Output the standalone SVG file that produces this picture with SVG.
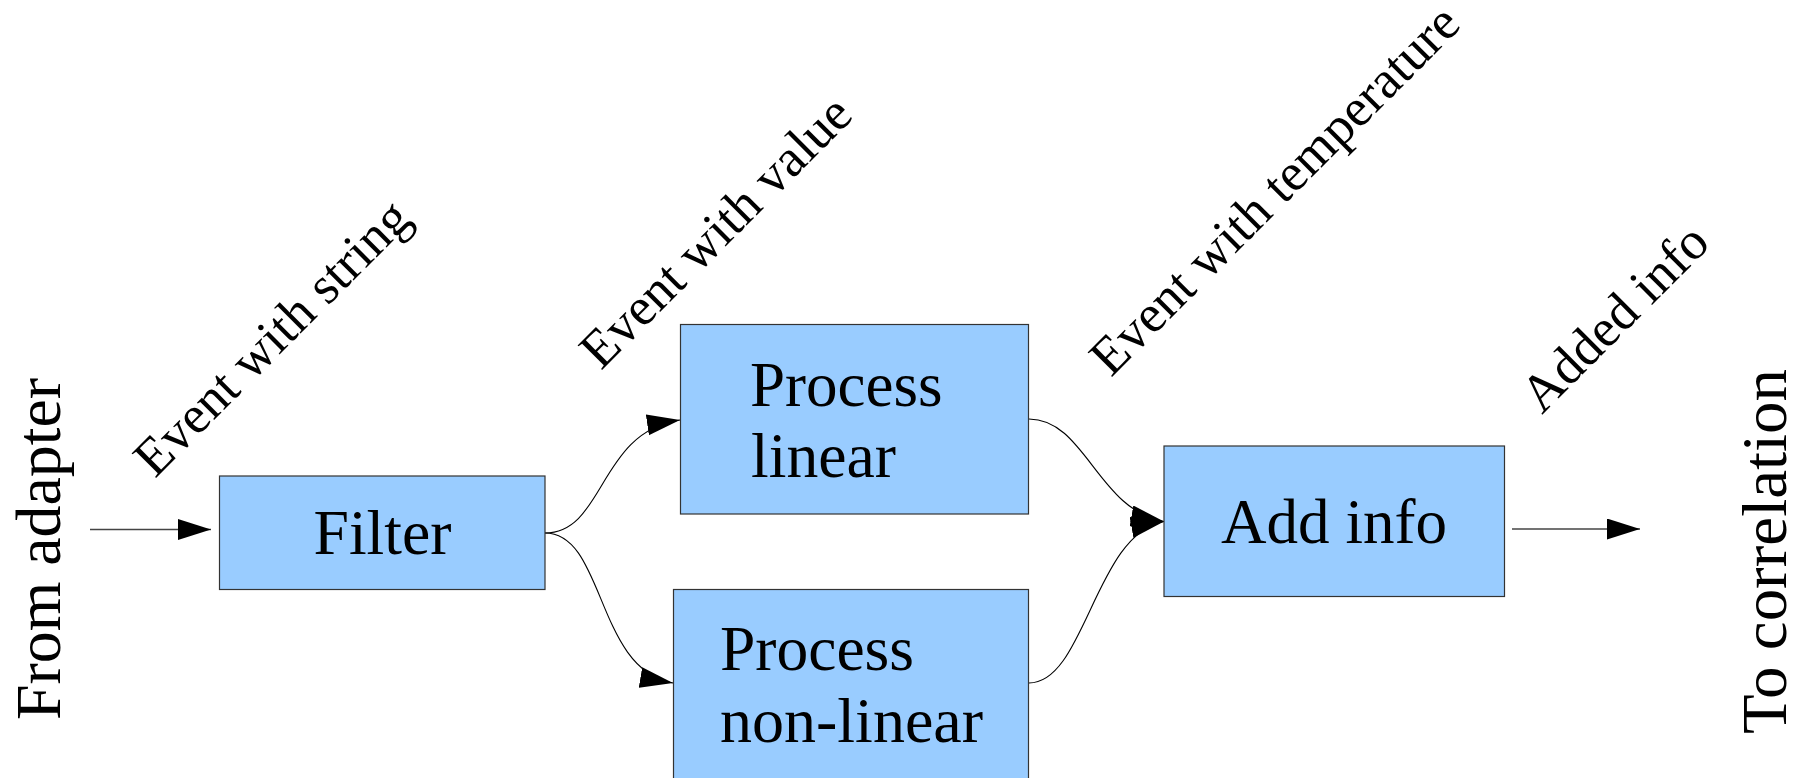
<svg xmlns="http://www.w3.org/2000/svg" width="1803" height="778" viewBox="0 0 1803 778">
  <style>
    .box { fill: #99ccff; stroke: #333333; stroke-width: 1.2; }
    .txt { font-family: "Liberation Serif", "Times New Roman", serif; fill: #000000; }
    .big { font-size: 64px; }
    .lbl { font-size: 53px; }
    .conn { fill: none; stroke: #000000; stroke-width: 1.1; }
    .io { fill: none; stroke: #444444; stroke-width: 1.6; }
  </style>
  <defs>
    <marker id="arrow" markerUnits="userSpaceOnUse" markerWidth="34" markerHeight="22" refX="33" refY="10.5" orient="auto">
      <path d="M0,0 L33,10.5 L0,21 Z" fill="#000000"/>
    </marker>
  </defs>
  <rect width="1803" height="778" fill="#ffffff"/>

  <!-- connectors -->
  <g id="connectors">
    <path class="io" d="M90,529.5 L211,529.5" marker-end="url(#arrow)"/>
    <path class="conn" d="M545,533 C605,533 598,432 680,420" marker-end="url(#arrow)"/>
    <path class="conn" d="M545,533 C605,533 596,670 673,683" marker-end="url(#arrow)"/>
    <path class="conn" d="M1029,419 C1085,419 1098,510 1164,521.5" marker-end="url(#arrow)"/>
    <path class="conn" d="M1029,683 C1085,683 1095,534 1164,521.5" marker-end="url(#arrow)"/>
    <path class="io" d="M1512,529 L1640,529" marker-end="url(#arrow)"/>
  </g>

  <!-- side captions -->
  <g id="from-adapter">
    <text class="txt big" transform="translate(60,720) rotate(-90)" textLength="342" lengthAdjust="spacingAndGlyphs">From adapter</text>
  </g>
  <g id="to-correlation">
    <text class="txt big" transform="translate(1786,734) rotate(-90)" textLength="365" lengthAdjust="spacingAndGlyphs">To correlation</text>
  </g>

  <!-- event labels -->
  <g id="label-string">
    <text class="txt lbl" transform="translate(155,479) rotate(-45)">Event with string</text>
  </g>
  <g id="label-value">
    <text class="txt lbl" transform="translate(601,371) rotate(-45)">Event with value</text>
  </g>
  <g id="label-temperature">
    <text class="txt lbl" transform="translate(1111,378) rotate(-45)">Event with temperature</text>
  </g>
  <g id="label-added">
    <text class="txt lbl" transform="translate(1542,415) rotate(-45)">Added info</text>
  </g>

  <!-- processing nodes -->
  <g id="filter">
    <rect class="box" x="219.5" y="476" width="325.5" height="113.5"/>
    <text class="txt big" x="313.5" y="554" textLength="138" lengthAdjust="spacingAndGlyphs">Filter</text>
  </g>
  <g id="process-linear">
    <rect class="box" x="680.5" y="324.5" width="348" height="189.5"/>
    <text class="txt big" x="750" y="406" textLength="192.5" lengthAdjust="spacingAndGlyphs">Process</text>
    <text class="txt big" x="751" y="476.5" textLength="145" lengthAdjust="spacingAndGlyphs">linear</text>
  </g>
  <g id="process-non-linear">
    <rect class="box" x="673.5" y="589.5" width="355" height="220"/>
    <text class="txt big" x="720" y="669.5" textLength="194" lengthAdjust="spacingAndGlyphs">Process</text>
    <text class="txt big" x="720" y="741.5" textLength="263" lengthAdjust="spacingAndGlyphs">non-linear</text>
  </g>
  <g id="add-info">
    <rect class="box" x="1164" y="446" width="340.5" height="150.5"/>
    <text class="txt big" x="1221" y="542.5" textLength="226" lengthAdjust="spacingAndGlyphs">Add info</text>
  </g>
</svg>
